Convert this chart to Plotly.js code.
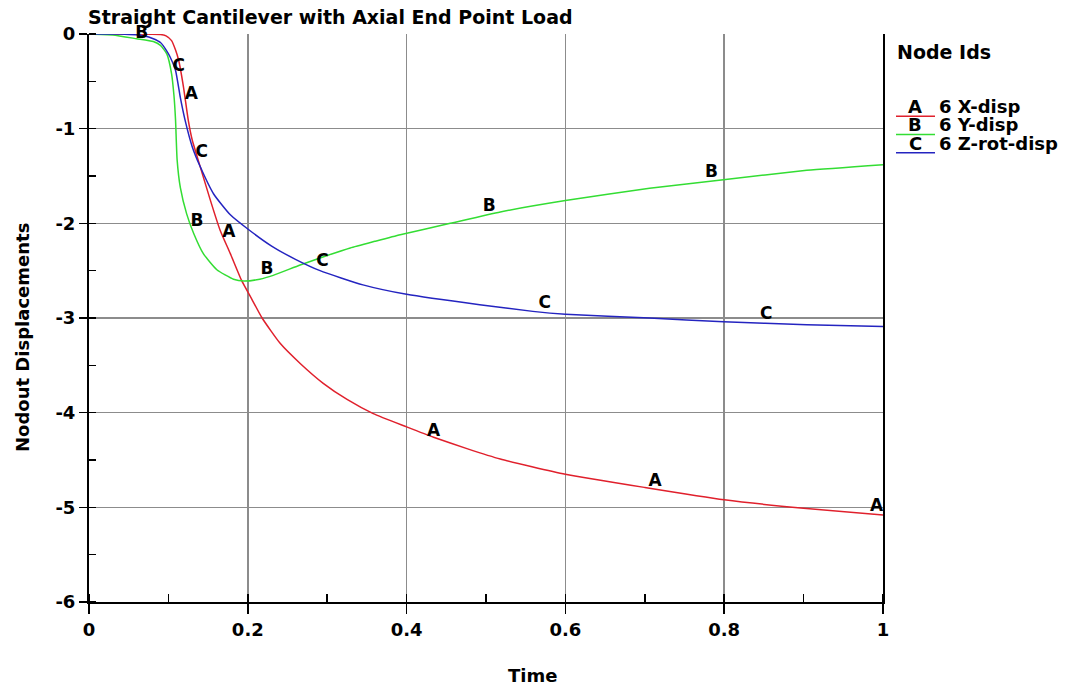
<!DOCTYPE html>
<html>
<head>
<meta charset="utf-8">
<script src="https://cdn.plot.ly/plotly-3.0.1.min.js"></script>
<style>html,body{margin:0;padding:0;background:#fff;}#chart{width:1071px;height:690px;}</style>
</head>
<body>
<div id="chart"></div>
<script>
// ---- data ----
var chartTitle = 'Straight Cantilever with Axial End Point Load';
var xTitle = 'Time';
var yTitle = 'Nodout Displacements';
var legendTitle = 'Node Ids';
var seriesLetters = ['A', 'B', 'C'];
var seriesNames = ['6 X-disp', '6 Y-disp', '6 Z-rot-disp'];

var xTickVals = [0, 0.2, 0.4, 0.6, 0.8, 1];
var xTickText = ['0', '0.2', '0.4', '0.6', '0.8', '1'];
var yTickVals = [0, -1, -2, -3, -4, -5, -6];
var yTickText = ['0', '-1', '-2', '-3', '-4', '-5', '-6'];

var timeA = [0, 0.05, 0.09, 0.097, 0.104, 0.109, 0.113, 0.119, 0.125, 0.130, 0.140, 0.153, 0.165, 0.178, 0.192, 0.205, 0.218, 0.241, 0.266, 0.295, 0.325, 0.358, 0.400, 0.434, 0.476, 0.518, 0.600, 0.700, 0.800, 0.900, 1.0];
var xDisp = [0, 0, -0.005, -0.02, -0.07, -0.17, -0.28, -0.56, -0.91, -1.12, -1.40, -1.76, -2.07, -2.32, -2.60, -2.80, -3.00, -3.27, -3.48, -3.69, -3.86, -4.01, -4.15, -4.26, -4.38, -4.49, -4.65, -4.79, -4.92, -5.01, -5.08];

var timeB = [0, 0.03, 0.06, 0.081, 0.09, 0.098, 0.104, 0.107, 0.109, 0.111, 0.115, 0.123, 0.132, 0.144, 0.161, 0.182, 0.195, 0.215, 0.232, 0.266, 0.30, 0.329, 0.36, 0.392, 0.455, 0.518, 0.600, 0.706, 0.799, 0.904, 1.0];
var yDisp = [0, -0.01, -0.05, -0.08, -0.12, -0.21, -0.42, -0.65, -0.91, -1.33, -1.62, -1.90, -2.11, -2.32, -2.49, -2.59, -2.61, -2.59, -2.55, -2.44, -2.34, -2.26, -2.19, -2.12, -2.00, -1.88, -1.76, -1.63, -1.54, -1.44, -1.38];

var timeC = [0, 0.04, 0.07, 0.081, 0.09, 0.098, 0.102, 0.109, 0.115, 0.121, 0.130, 0.140, 0.157, 0.178, 0.200, 0.230, 0.260, 0.291, 0.345, 0.400, 0.492, 0.559, 0.600, 0.706, 0.799, 0.904, 1.0];
var zRotDisp = [0, 0, -0.02, -0.05, -0.09, -0.18, -0.24, -0.385, -0.67, -0.91, -1.19, -1.40, -1.69, -1.91, -2.06, -2.24, -2.38, -2.50, -2.65, -2.75, -2.86, -2.93, -2.96, -3.00, -3.04, -3.07, -3.09];

// curve letter labels
var labelAx = [0.129, 0.176, 0.434, 0.713, 0.992];
var labelAy = [-0.64, -2.10, -4.20, -4.73, -4.99];
var labelBx = [0.0665, 0.136, 0.224, 0.504, 0.784];
var labelBy = [0, -1.98, -2.49, -1.83, -1.47];
var labelCx = [0.113, 0.142, 0.294, 0.574, 0.853];
var labelCy = [-0.35, -1.25, -2.41, -2.85, -2.97];

// ---- styles ----
var colors = ['#e0202c', '#33dd33', '#2424c0'];
var FONT = 'DejaVu Sans';
var W = 1071, H = 690;
var M = {l: 89, r: 188, t: 34, b: 88};
var PW = W - M.l - M.r, PH = H - M.t - M.b;
function px(x) { return (x - M.l) / PW; }
function py(y) { return (H - M.b - y) / PH; }

var seriesT = [timeA, timeB, timeC];
var seriesY = [xDisp, yDisp, zRotDisp];
var labX = [labelAx, labelBx, labelCx];
var labY = [labelAy, labelBy, labelCy];

var traces = [];
for (var i = 0; i < 3; i++) {
  traces.push({
    x: seriesT[i], y: seriesY[i], type: 'scatter', mode: 'lines',
    line: {color: colors[i], width: 1.5, shape: 'spline', smoothing: 0.5},
    hoverinfo: 'skip', showlegend: false
  });
}
for (var i = 0; i < 3; i++) {
  traces.push({
    x: labX[i], y: labY[i], type: 'scatter', mode: 'text',
    text: labX[i].map(function () { return seriesLetters[i]; }),
    textposition: 'middle center',
    textfont: {family: FONT, size: 17, color: '#000', weight: 'bold'},
    cliponaxis: false, hoverinfo: 'skip', showlegend: false
  });
}

var annotations = [
  {text: xTitle, xref: 'paper', yref: 'paper', x: px(532), y: py(675), xanchor: 'center', yanchor: 'middle', showarrow: false,
   font: {family: FONT, size: 18, color: '#000', weight: 'bold'}},
  {text: yTitle, xref: 'paper', yref: 'paper', x: px(22), y: py(338), xanchor: 'center', yanchor: 'middle', textangle: -90, showarrow: false,
   font: {family: FONT, size: 18, color: '#000', weight: 'bold'}},
  {text: legendTitle, xref: 'paper', yref: 'paper', x: px(895), y: py(52), xanchor: 'left', yanchor: 'middle', showarrow: false,
   font: {family: FONT, size: 19, color: '#000', weight: 'bold'}}
];
var shapes = [];
for (var i = 0; i < 3; i++) {
  var cy = 106.7 + i * 18.3;
  annotations.push({text: seriesLetters[i], xref: 'paper', yref: 'paper', x: px(915), y: py(cy), xanchor: 'center', yanchor: 'middle', showarrow: false,
    font: {family: FONT, size: 18, color: '#000', weight: 'bold'}});
  annotations.push({text: seriesNames[i], xref: 'paper', yref: 'paper', x: px(937), y: py(cy), xanchor: 'left', yanchor: 'middle', showarrow: false,
    font: {family: FONT, size: 18, color: '#000', weight: 'bold'}});
  shapes.push({type: 'line', xref: 'paper', yref: 'paper', x0: px(896), x1: px(935), y0: py(cy + 9.5), y1: py(cy + 9.5),
    line: {color: colors[i], width: 1.5}});
}

var layout = {
  width: W, height: H,
  margin: M,
  paper_bgcolor: '#fff', plot_bgcolor: '#fff',
  font: {family: FONT, size: 18, color: '#000', weight: 'bold'},
  showlegend: false,
  title: {text: chartTitle, xref: 'container', yref: 'container', x: 88 / W, xanchor: 'left', y: 1 - 17 / H, yanchor: 'middle',
    font: {family: FONT, size: 19, color: '#000', weight: 'bold'}},
  xaxis: {
    range: [0, 1], tickvals: xTickVals, ticktext: xTickText,
    showgrid: true, gridcolor: '#8c8c8c', gridwidth: 1.5,
    showline: true, linecolor: '#000', linewidth: 2, mirror: false,
    ticks: 'outside', ticklen: 10, tickwidth: 1.5, tickcolor: '#000',
    minor: {dtick: 0.1, tick0: 0, ticks: 'inside', ticklen: 8, tickwidth: 1.5, tickcolor: '#000', showgrid: false},
    zeroline: false, fixedrange: true,
    tickfont: {family: FONT, size: 18, color: '#000', weight: 'bold'}
  },
  yaxis: {
    range: [-6, 0], tickvals: yTickVals, ticktext: yTickText,
    showgrid: true, gridcolor: '#8c8c8c', gridwidth: 1.5,
    showline: true, linecolor: '#000', linewidth: 2, mirror: true,
    ticks: 'outside', ticklen: 8, tickwidth: 1.5, tickcolor: '#000',
    minor: {dtick: 0.5, tick0: 0, ticks: 'inside', ticklen: 7, tickwidth: 1.5, tickcolor: '#000', showgrid: false},
    zeroline: false, fixedrange: true,
    tickfont: {family: FONT, size: 18, color: '#000', weight: 'bold'}
  },
  annotations: annotations,
  shapes: shapes
};

Plotly.newPlot('chart', traces, layout, {staticPlot: true, displayModeBar: false});
</script>
</body>
</html>
